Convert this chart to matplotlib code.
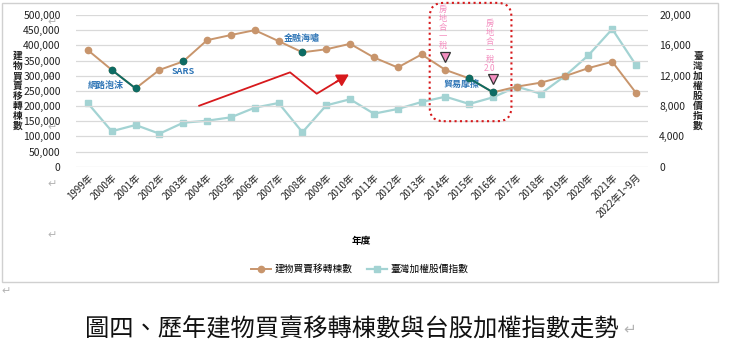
import matplotlib.pyplot as plt
from matplotlib.lines import Line2D
from matplotlib.patches import FancyBboxPatch
from matplotlib.transforms import IdentityTransform

plt.rcParams['font.family'] = ['Noto Sans CJK TC', 'DejaVu Sans']

years = ['1999年', '2000年', '2001年', '2002年', '2003年', '2004年', '2005年', '2006年',
         '2007年', '2008年', '2009年', '2010年', '2011年', '2012年', '2013年', '2014年',
         '2015年', '2016年', '2017年', '2018年', '2019年', '2020年', '2021年', '2022年1~9月']
transfers = [384000, 319000, 258000, 319000, 347000, 417000, 434000, 450000,
             414000, 377000, 387000, 405000, 360000, 327000, 370000, 319000,
             291000, 245000, 264000, 277000, 298000, 325000, 346000, 243000]
taiex = [8360, 4670, 5500, 4350, 5800, 6060, 6510, 7780,
         8400, 4540, 8090, 8890, 6990, 7610, 8530, 9230,
         8270, 9150, 10550, 9620, 11920, 14690, 18150, 13370]
dark_segments = [(1, 2), (16, 17)]
dark_points = [1, 2, 4, 9, 16, 17]

brown = '#c8956c'
teal = '#a3d3d3'
dark = '#0d6b63'
blue = '#2e75b6'
pink = '#f48fc0'
red = '#d7191c'
gray_mark = '#b4b4b4'

fig = plt.figure(figsize=(7.5, 3.56), dpi=100)
ax = fig.add_axes([76 / 750, 1 - 166.7 / 356, 572 / 750, 151.7 / 356])
ax2 = ax.twinx()

x = list(range(len(years)))
ax.set_ylim(0, 500000)
ax.set_xlim(-0.5, len(years) - 0.5)
ax2.set_ylim(0, 20000)
ax.set_yticks(range(0, 500001, 50000))
ax.set_yticklabels([f'{v:,}' for v in range(0, 500001, 50000)])
ax2.set_yticks(range(0, 20001, 4000))
ax2.set_yticklabels([f'{v:,}' for v in range(0, 20001, 4000)])
for a in (ax, ax2):
    for s in a.spines.values():
        s.set_visible(False)
    a.tick_params(length=0, labelsize=7.5, colors='#222222')
ax.tick_params(axis='y', pad=11)
ax2.tick_params(axis='y', pad=8)
ax.yaxis.grid(True, color='#d9d9d9', lw=0.9)
ax.set_axisbelow(True)
ax.set_xticks(x)
ax.set_xticklabels(years, rotation=45, ha='right', rotation_mode='anchor', fontsize=7)
ax.tick_params(axis='x', pad=4)

ax2.plot(x, taiex, color=teal, lw=1.6, marker='s', ms=4.5, zorder=2)
ax.set_zorder(ax2.get_zorder() + 1)
ax.patch.set_visible(False)
ax.plot(x, transfers, color=brown, lw=1.4, marker='o', ms=4.5, zorder=3)
for i, j in dark_segments:
    ax.plot([i, j], [transfers[i], transfers[j]], color=dark, lw=1.4, zorder=4)
ax.plot(dark_points, [transfers[i] for i in dark_points], 'o', color=dark, ms=4.5, zorder=5)

# event labels
ax.text(0.74, 269000, '網路泡沫', color=blue, fontsize=6.5, fontweight='bold', ha='center', va='center')
ax.text(4.0, 315000, 'SARS', color=blue, fontsize=6.5, fontweight='bold', ha='center', va='center')
ax.text(8.97, 424000, '金融海嘯', color=blue, fontsize=6.5, fontweight='bold', ha='center', va='center')
ax.text(15.67, 272000, '貿易摩擦', color=blue, fontsize=6.5, fontweight='bold', ha='center', va='center')
ax.text(14.88, 460000, '房\n地\n合\n一\n稅', color=pink, fontsize=6, ha='center', va='center',
        linespacing=1.0, clip_on=False)
ax.text(16.85, 398000, '房\n地\n合\n一\n稅\n2.0', color=pink, fontsize=6, ha='center', va='center',
        linespacing=1.0, clip_on=False)
ax.plot([15, 17], [361000, 289000], 'v', color=pink, mec='#333333', mew=0.9, ms=7.5, zorder=6)

# red trend arrow
ax.plot([4.67, 8.48, 9.6, 10.6], [201000, 311000, 240600, 288000], color=red, lw=1.3, zorder=4)
ax.annotate('', xy=(10.95, 304000), xytext=(10.4, 279000),
            arrowprops=dict(arrowstyle='-|>,head_length=0.7,head_width=0.4', color=red, lw=1.3,
                            shrinkA=0, shrinkB=0))

# dotted rounded box around the 2014-2016 period
fig.canvas.draw()
x0, y0 = ax.transData.transform((14.34, 150000))
x1, y1 = ax.transData.transform((17.77, 540000))
box = FancyBboxPatch((x0, y0), x1 - x0, y1 - y0, boxstyle='round,pad=0,rounding_size=14',
                     fill=False, ec=red, lw=1.5, ls=(0, (1, 1.6)), transform=IdentityTransform(),
                     zorder=7)
fig.patches.append(box)

# axis titles
fig.text(18 / 750, 1 - 91 / 356, '\n'.join('建物買賣移轉棟數'), fontsize=7, ha='center', va='center',
         linespacing=1.0, fontweight='bold', color='#222222')
fig.text(698 / 750, 1 - 91 / 356, '\n'.join('臺灣加權股價指數'), fontsize=7, ha='center', va='center',
         linespacing=1.0, fontweight='bold', color='#222222')
fig.text(361 / 750, 1 - 241 / 356, '年度', fontsize=7, ha='center', va='center', fontweight='bold')

handles = [Line2D([], [], color=brown, marker='o', ms=4.5, lw=1.4),
           Line2D([], [], color=teal, marker='s', ms=4.5, lw=1.6)]
fig.legend(handles, ['建物買賣移轉棟數', '臺灣加權股價指數'], loc='center', ncol=2,
           bbox_to_anchor=(360 / 750, 1 - 269 / 356), frameon=False, fontsize=7,
           handlelength=2.0, columnspacing=1.5, handletextpad=0.4)

# chart border
fig.patches.append(FancyBboxPatch((2, 356 - 282), 716, 279, boxstyle='square,pad=0', fill=False,
                                  ec='#d0d0d0', lw=1.0, transform=IdentityTransform()))

# paragraph marks from the document
for px, py in [(52, 22), (50, 77), (52, 127), (52, 184), (52, 235), (6, 291)]:
    fig.text(px / 750, 1 - py / 356, '↵', fontsize=8, color=gray_mark, ha='center', va='center',
             family='DejaVu Sans', zorder=0)

fig.text(352 / 750, 1 - 330 / 356, '圖四、歷年建物買賣移轉棟數與台股加權指數走勢', fontsize=17.5,
         ha='center', va='center', color='#111111')
fig.text(630 / 750, 1 - 329 / 356, '↵', fontsize=11, color=gray_mark, ha='center', va='center',
         family='DejaVu Sans')

fig.savefig('out.png', dpi=100)
